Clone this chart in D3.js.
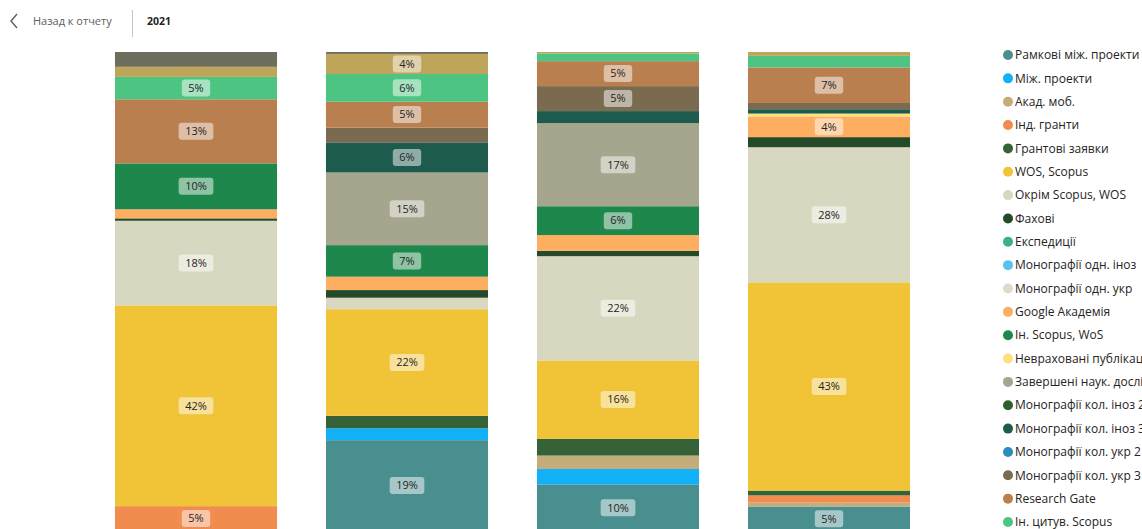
<!DOCTYPE html>
<html>
<head>
<meta charset="utf-8">
<script src="https://cdn.jsdelivr.net/npm/d3@7"></script>
<style>
  html, body { margin: 0; padding: 0; background: #fff; overflow: hidden; }
  svg { display: block; font-family: "Segoe UI", "Open Sans", sans-serif; }
  .seg-label { font-size: 11px; fill: #252423; }
  .legend-label { font-size: 12px; fill: #252423; }
</style>
</head>
<body>
<div id="chart"></div>
<script>
// categories (their axis labels sit below the visible window, so not drawn)
var categories = ["I квартал", "II квартал", "III квартал", "IV квартал"];

// series, bottom of the stack first (legend order)
var seriesNames = [
  "Рамкові між. проекти", "Між. проекти", "Акад. моб.", "Інд. гранти", "Грантові заявки",
  "WOS, Scopus", "Окрім Scopus, WOS", "Фахові", "Експедиції", "Монографії одн. іноз",
  "Монографії одн. укр", "Google Академія", "Ін. Scopus, WoS", "Невраховані публікації",
  "Завершені наук. дослідження", "Монографії кол. іноз 2", "Монографії кол. іноз 3",
  "Монографії кол. укр 2", "Монографії кол. укр 3", "Research Gate", "Ін. цитув. Scopus",
  "Ін. цитув. WoS", "Інше"
];

var seriesColors = [
  "#4a8f8f", "#11b0f7", "#c4ad7a", "#f08c4e", "#356337",
  "#f1c336", "#d8d8c0", "#254a2a", "#3bb08f", "#5bc2f0",
  "#dcdccc", "#fdae61", "#1e874b", "#ffe07a",
  "#a6a58d", "#2e5e2c", "#1d5b4c",
  "#2b8cbe", "#7a6a50", "#ba7f4e", "#4ec482",
  "#bfa55a", "#6f6e5e"
];

// shares (%) per category, same order as seriesNames
var values1 = [0, 0, 0, 5.2, 0, 42.0, 17.7, 0.5, 0, 0, 0, 1.9, 9.6, 0, 0, 0, 0, 0, 0, 13.4, 4.7, 2.1, 3.1];
var values2 = [19.0, 2.5, 0, 0, 2.6, 22.3, 2.4, 1.6, 0, 0, 0, 2.8, 6.6, 0, 15.2, 0, 6.3, 0, 3.1, 5.4, 5.8, 4.2, 0.4];
var values3 = [9.7, 3.2, 2.8, 0, 3.5, 16.3, 21.7, 1.1, 0, 0, 0, 3.3, 6.0, 0, 17.3, 0, 2.5, 0, 5.2, 5.2, 1.6, 0.3, 0];
var values4 = [5.1, 0, 0.8, 1.5, 1.0, 43.3, 28.1, 2.1, 0, 0, 0, 4.3, 0, 0.6, 0, 0, 0.9, 0, 1.3, 7.4, 2.4, 0.8, 0];

var allValues = [values1, values2, values3, values4];

var width = 1142, height = 529;
var plotTop = 52, plotBottom = 531;

var table = categories.map(function(c, i) {
  var row = {category: c};
  seriesNames.forEach(function(s, j) { row[s] = allValues[i][j]; });
  return row;
});

var svg = d3.select("#chart").append("svg")
  .attr("width", width)
  .attr("height", height);

// header
var header = svg.append("g");
header.append("path")
  .attr("d", "M17,14 L11,21 L17,28")
  .attr("fill", "none")
  .attr("stroke", "#605e5c")
  .attr("stroke-width", 1.4);
header.append("text")
  .attr("x", 33).attr("y", 25)
  .attr("font-size", 11)
  .attr("fill", "#605e5c")
  .text("Назад к отчету");
header.append("line")
  .attr("x1", 132.5).attr("x2", 132.5)
  .attr("y1", 10).attr("y2", 37)
  .attr("stroke", "#c8c6c4");
header.append("text")
  .attr("x", 147).attr("y", 25)
  .attr("font-size", 10.5)
  .attr("font-weight", "bold")
  .attr("fill", "#252423")
  .text("2021");

var x = d3.scaleBand()
  .domain(categories)
  .range([90.5, 934.5])
  .paddingInner(0.232)
  .paddingOuter(0.116);

var y = d3.scaleLinear()
  .domain([0, 1])
  .range([plotBottom, plotTop]);

var color = d3.scaleOrdinal()
  .domain(seriesNames)
  .range(seriesColors);

var stacked = d3.stack()
  .keys(seriesNames)
  .offset(d3.stackOffsetExpand)(table);

var layers = svg.append("g")
  .selectAll("g")
  .data(stacked)
  .join("g")
  .attr("fill", function(d) { return color(d.key); });

layers.selectAll("rect")
  .data(function(d) { return d; })
  .join("rect")
  .attr("x", function(d) { return x(d.data.category); })
  .attr("y", function(d) { return y(d[1]); })
  .attr("width", x.bandwidth())
  .attr("height", function(d) { return Math.max(0, y(d[0]) - y(d[1])); });

// data labels
var fmt = d3.format(".0%");
var labelData = [];
stacked.forEach(function(layer) {
  layer.forEach(function(d) {
    if (d[1] - d[0] >= 0.039) labelData.push(d);
  });
});

var labels = svg.append("g")
  .selectAll("g")
  .data(labelData)
  .join("g")
  .attr("transform", function(d) {
    return "translate(" + (x(d.data.category) + x.bandwidth() / 2) + "," + ((y(d[0]) + y(d[1])) / 2) + ")";
  });

labels.append("text")
  .attr("class", "seg-label")
  .attr("text-anchor", "middle")
  .attr("dy", "0.35em")
  .text(function(d) { return fmt(d[1] - d[0]); })
  .each(function() {
    var bb = this.getBBox();
    var w = bb.width + 13;
    d3.select(this.parentNode).insert("rect", "text")
      .attr("x", -w / 2)
      .attr("y", -8.5)
      .attr("width", w)
      .attr("height", 17)
      .attr("rx", 3)
      .attr("fill", "#fff")
      .attr("fill-opacity", 0.5);
  });

// legend
var legend = svg.append("g")
  .attr("transform", "translate(1008,55)")
  .selectAll("g")
  .data(seriesNames)
  .join("g")
  .attr("transform", function(d, i) { return "translate(0," + (i * 23.35) + ")"; });

legend.append("circle")
  .attr("r", 5)
  .attr("fill", function(d) { return color(d); });

legend.append("text")
  .attr("class", "legend-label")
  .attr("x", 7)
  .attr("dy", "0.35em")
  .text(function(d) { return d; });
</script>
</body>
</html>
